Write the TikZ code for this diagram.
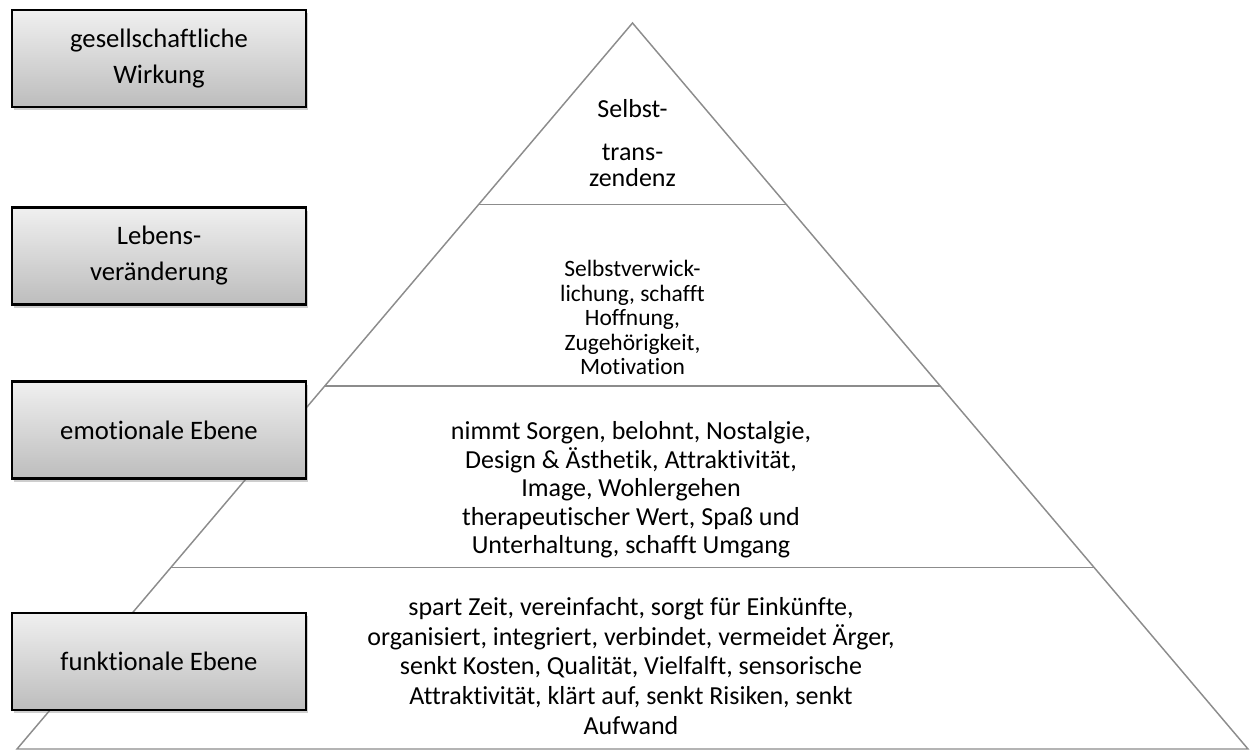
\documentclass[tikz,border=0pt]{standalone}
\usepackage{fontspec}
\setmainfont{Carlito}[Ligatures={NoCommon}]
\usetikzlibrary{calc,shadows}
\begin{document}
\begin{tikzpicture}[x=0.75pt,y=-0.75pt,
  edge/.style={draw=black!45, line width=1.1pt},
  level/.style={draw=black, line width=1.6pt, top color=black!6, bottom color=black!26,
    minimum width=220.5pt, minimum height=72.75pt, inner sep=0pt, align=center,
    font=\fontsize{20pt}{27pt}\selectfont,
    drop shadow={shadow xshift=1.2pt, shadow yshift=-2.4pt, opacity=0.35, fill=black!55}},
  tiertext/.style={align=center, inner sep=0pt}
]
\useasboundingbox (0,0) rectangle (1252,750);

% pyramid outline
\coordinate (apex) at (632.5,23);
\coordinate (bl) at (17,749);
\coordinate (br) at (1248,749);
\draw[edge] (apex) -- (br) -- (bl) -- cycle;

% tier separators at quarter heights
\foreach \t/\n in {0.25/a,0.5/b,0.75/c} {
  \coordinate (l\n) at ($(apex)!\t!(bl)$);
  \coordinate (r\n) at ($(apex)!\t!(br)$);
  \draw[edge] (l\n) -- (r\n);
}

% tier contents
\node[tiertext, font=\fontsize{19.5pt}{19.5pt}\selectfont] (t1) at (632.5,143)
  {Selbst-\\[13pt]trans-\\zendenz};
\node[tiertext, font=\fontsize{17.6pt}{18.4pt}\selectfont] (t2) at (632.5,317.5)
  {Selbstverwick-\\lichung, schafft\\Hoffnung,\\Zugehörigkeit,\\Motivation};
\node[tiertext, font=\fontsize{19.5pt}{21.4pt}\selectfont] (t3) at (631,490)
  {nimmt Sorgen, belohnt, Nostalgie,\\Design \& Ästhetik, Attraktivität,\\Image, Wohlergehen\\therapeutischer Wert, Spaß und\\Unterhaltung, schafft Umgang};
\node[tiertext, font=\fontsize{19.5pt}{22.2pt}\selectfont] (t4) at (631,666)
  {spart Zeit, vereinfacht, sorgt für Einkünfte,\\organisiert, integriert, verbindet, vermeidet Ärger,\\senkt Kosten, Qualität, Vielfalft, sensorische\\Attraktivität, klärt auf, senkt Risiken, senkt\\Aufwand};

% level labels
\node[level] (b1) at (159,58.5) {gesellschaftliche\\Wirkung};
\node[level] (b2) at (159,256) {Lebens-\\veränderung};
\node[level] (b3) at (159,430) {emotionale Ebene};
\node[level] (b4) at (159,661.5) {funktionale Ebene};
\end{tikzpicture}
\end{document}
